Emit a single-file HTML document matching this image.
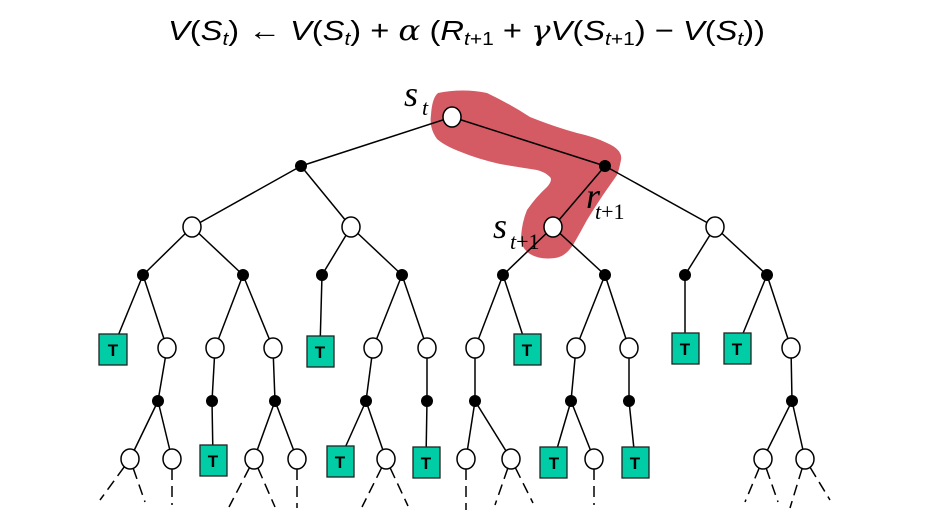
<!DOCTYPE html>
<html><head><meta charset="utf-8"><style>
html,body{margin:0;padding:0;background:#fff;}
svg{display:block;}
</style></head><body>
<svg width="932" height="518" viewBox="0 0 932 518" xmlns="http://www.w3.org/2000/svg">
<text x="168" y="40" font-family="Liberation Sans, DejaVu Sans, sans-serif" font-size="28" textLength="597" lengthAdjust="spacingAndGlyphs"><tspan font-style="italic">V</tspan>(<tspan font-style="italic">S</tspan><tspan font-size="18" dy="5" font-style="italic">t</tspan><tspan dy="-5">) ← </tspan><tspan font-style="italic">V</tspan>(<tspan font-style="italic">S</tspan><tspan font-size="18" dy="5" font-style="italic">t</tspan><tspan dy="-5">) + </tspan><tspan font-family="DejaVu Serif, serif" font-style="italic">α</tspan> (<tspan font-style="italic">R</tspan><tspan font-size="18" dy="5"><tspan font-style="italic">t</tspan>+1</tspan><tspan dy="-5"> + </tspan><tspan font-family="DejaVu Serif, serif" font-style="italic">γ</tspan><tspan font-style="italic">V</tspan>(<tspan font-style="italic">S</tspan><tspan font-size="18" dy="5"><tspan font-style="italic">t</tspan>+1</tspan><tspan dy="-5">) − </tspan><tspan font-style="italic">V</tspan>(<tspan font-style="italic">S</tspan><tspan font-size="18" dy="5" font-style="italic">t</tspan><tspan dy="-5">))</tspan></text>

<path d="M438,93 Q463,88 487,93 Q510,104 530,117 Q555,127 577,133 Q595,137 607,143 Q623,150 621,160 Q619,170 617,175 Q610,185 603,195 Q595,207 587,220 Q580,233 573,245 Q565,257 555,258 Q540,260 530,254 Q520,247 521,237 Q522,222 527,210 Q536,197 547,187 Q553,180 550,177 Q545,172 537,170 Q518,167 500,164 Q478,159 461,152 Q445,146 437,139 Q429,128 431,115 Q432,98 438,93 Z" fill="#d45a63"/>

<g stroke="#000" stroke-width="1.5" fill="none">
<line x1="452" y1="117" x2="301" y2="166"/><line x1="452" y1="117" x2="605" y2="166"/>
<line x1="301" y1="166" x2="192" y2="227"/><line x1="301" y1="166" x2="351" y2="227"/>
<line x1="605" y1="166" x2="553" y2="227"/><line x1="605" y1="166" x2="715" y2="227"/>
<line x1="192" y1="227" x2="143" y2="275"/><line x1="192" y1="227" x2="243" y2="275"/>
<line x1="351" y1="227" x2="322" y2="275"/><line x1="351" y1="227" x2="402" y2="275"/>
<line x1="553" y1="227" x2="503" y2="275"/><line x1="553" y1="227" x2="605" y2="275"/>
<line x1="715" y1="227" x2="685" y2="275"/><line x1="715" y1="227" x2="767" y2="275"/>
<line x1="143" y1="275" x2="113" y2="348"/><line x1="143" y1="275" x2="167" y2="348"/>
<line x1="243" y1="275" x2="215" y2="348"/><line x1="243" y1="275" x2="273" y2="348"/>
<line x1="322" y1="275" x2="320" y2="348"/>
<line x1="402" y1="275" x2="373" y2="348"/><line x1="402" y1="275" x2="427" y2="348"/>
<line x1="503" y1="275" x2="475" y2="348"/><line x1="503" y1="275" x2="527" y2="348"/>
<line x1="605" y1="275" x2="576" y2="348"/><line x1="605" y1="275" x2="629" y2="348"/>
<line x1="685" y1="275" x2="685" y2="348"/>
<line x1="767" y1="275" x2="737" y2="348"/><line x1="767" y1="275" x2="791" y2="348"/>
<line x1="167" y1="348" x2="158" y2="401"/><line x1="215" y1="348" x2="212" y2="401"/>
<line x1="273" y1="348" x2="275" y2="401"/><line x1="373" y1="348" x2="366" y2="401"/>
<line x1="427" y1="348" x2="427" y2="401"/><line x1="475" y1="348" x2="475" y2="401"/>
<line x1="576" y1="348" x2="571" y2="401"/><line x1="629" y1="348" x2="629" y2="401"/>
<line x1="791" y1="348" x2="792" y2="401"/>
<line x1="158" y1="401" x2="130" y2="459"/><line x1="158" y1="401" x2="172" y2="459"/>
<line x1="212" y1="401" x2="213" y2="459"/>
<line x1="275" y1="401" x2="254" y2="459"/><line x1="275" y1="401" x2="297" y2="459"/>
<line x1="366" y1="401" x2="340" y2="459"/><line x1="366" y1="401" x2="386" y2="459"/>
<line x1="427" y1="401" x2="426" y2="459"/>
<line x1="475" y1="401" x2="466" y2="459"/><line x1="475" y1="401" x2="511" y2="459"/>
<line x1="571" y1="401" x2="554" y2="459"/><line x1="571" y1="401" x2="594" y2="459"/>
<line x1="629" y1="401" x2="635" y2="459"/>
<line x1="792" y1="401" x2="763" y2="459"/><line x1="792" y1="401" x2="805" y2="459"/>
</g>
<g stroke="#000" stroke-width="1.5" stroke-dasharray="11,6" stroke-dashoffset="-10" fill="none">
<line x1="130" y1="459" x2="100" y2="500"/><line x1="130" y1="459" x2="145" y2="502"/>
<line x1="172" y1="459" x2="172" y2="505"/>
<line x1="254" y1="459" x2="229" y2="507"/><line x1="254" y1="459" x2="275" y2="507"/>
<line x1="297" y1="459" x2="297" y2="508"/>
<line x1="386" y1="459" x2="362" y2="507"/><line x1="386" y1="459" x2="408" y2="506"/>
<line x1="466" y1="459" x2="466" y2="510"/>
<line x1="511" y1="459" x2="495" y2="505"/><line x1="511" y1="459" x2="533" y2="503"/>
<line x1="594" y1="459" x2="594" y2="505"/>
<line x1="763" y1="459" x2="745" y2="502"/><line x1="763" y1="459" x2="778" y2="502"/>
<line x1="805" y1="459" x2="790" y2="508"/><line x1="805" y1="459" x2="830" y2="500"/>
</g>
<g fill="#fff" stroke="#000" stroke-width="1.5">
<ellipse cx="452" cy="117" rx="9" ry="10"/>
<ellipse cx="192" cy="227" rx="9" ry="10"/><ellipse cx="351" cy="227" rx="9" ry="10"/>
<ellipse cx="553" cy="227" rx="9" ry="10"/><ellipse cx="715" cy="227" rx="9" ry="10"/>
<ellipse cx="167" cy="348" rx="9" ry="10"/><ellipse cx="215" cy="348" rx="9" ry="10"/>
<ellipse cx="273" cy="348" rx="9" ry="10"/><ellipse cx="373" cy="348" rx="9" ry="10"/>
<ellipse cx="427" cy="348" rx="9" ry="10"/><ellipse cx="475" cy="348" rx="9" ry="10"/>
<ellipse cx="576" cy="348" rx="9" ry="10"/><ellipse cx="629" cy="348" rx="9" ry="10"/>
<ellipse cx="791" cy="348" rx="9" ry="10"/>
<ellipse cx="130" cy="459" rx="9" ry="10"/><ellipse cx="172" cy="459" rx="9" ry="10"/>
<ellipse cx="254" cy="459" rx="9" ry="10"/><ellipse cx="297" cy="459" rx="9" ry="10"/>
<ellipse cx="386" cy="459" rx="9" ry="10"/><ellipse cx="466" cy="459" rx="9" ry="10"/>
<ellipse cx="511" cy="459" rx="9" ry="10"/><ellipse cx="594" cy="459" rx="9" ry="10"/>
<ellipse cx="763" cy="459" rx="9" ry="10"/><ellipse cx="805" cy="459" rx="9" ry="10"/>
</g>
<g fill="#000">
<circle cx="301" cy="166" r="6"/><circle cx="605" cy="166" r="6"/>
<circle cx="143" cy="275" r="6"/><circle cx="243" cy="275" r="6"/><circle cx="322" cy="275" r="6"/><circle cx="402" cy="275" r="6"/>
<circle cx="503" cy="275" r="6"/><circle cx="605" cy="275" r="6"/><circle cx="685" cy="275" r="6"/><circle cx="767" cy="275" r="6"/>
<circle cx="158" cy="401" r="6"/><circle cx="212" cy="401" r="6"/><circle cx="275" cy="401" r="6"/><circle cx="366" cy="401" r="6"/>
<circle cx="427" cy="401" r="6"/><circle cx="475" cy="401" r="6"/><circle cx="571" cy="401" r="6"/><circle cx="629" cy="401" r="6"/>
<circle cx="792" cy="401" r="6"/>
</g>
<g fill="#00cca6" stroke="#222" stroke-width="1.3">
<rect x="99" y="334" width="28" height="31"/>
<rect x="307" y="336" width="27" height="31"/>
<rect x="514" y="334" width="27" height="31"/>
<rect x="672" y="333" width="27" height="31"/>
<rect x="724" y="333" width="27" height="31"/>
<rect x="200" y="445" width="27" height="31"/>
<rect x="327" y="446" width="27" height="31"/>
<rect x="413" y="447" width="27" height="31"/>
<rect x="540" y="447" width="27" height="31"/>
<rect x="622" y="447" width="27" height="31"/>
</g>
<g font-family="Liberation Sans, sans-serif" font-weight="bold" font-size="17" text-anchor="middle" fill="#000">
<text x="113" y="356">T</text><text x="320" y="358">T</text><text x="527" y="356">T</text>
<text x="685" y="355">T</text><text x="737" y="355">T</text><text x="213" y="467">T</text>
<text x="340" y="468">T</text><text x="426" y="469">T</text><text x="554" y="469">T</text><text x="635" y="469">T</text>
</g>
<g font-family="Liberation Serif, serif" font-style="italic" fill="#000">
<text x="404" y="106" font-size="36">s</text><text x="422" y="115" font-size="22">t</text>
<text x="493" y="238" font-size="36">s</text><text x="510" y="249" font-size="22">t<tspan font-style="normal">+1</tspan></text>
<text x="586" y="208" font-size="36">r</text><text x="595" y="219" font-size="22">t<tspan font-style="normal">+1</tspan></text>
</g>
</svg>
</body></html>
